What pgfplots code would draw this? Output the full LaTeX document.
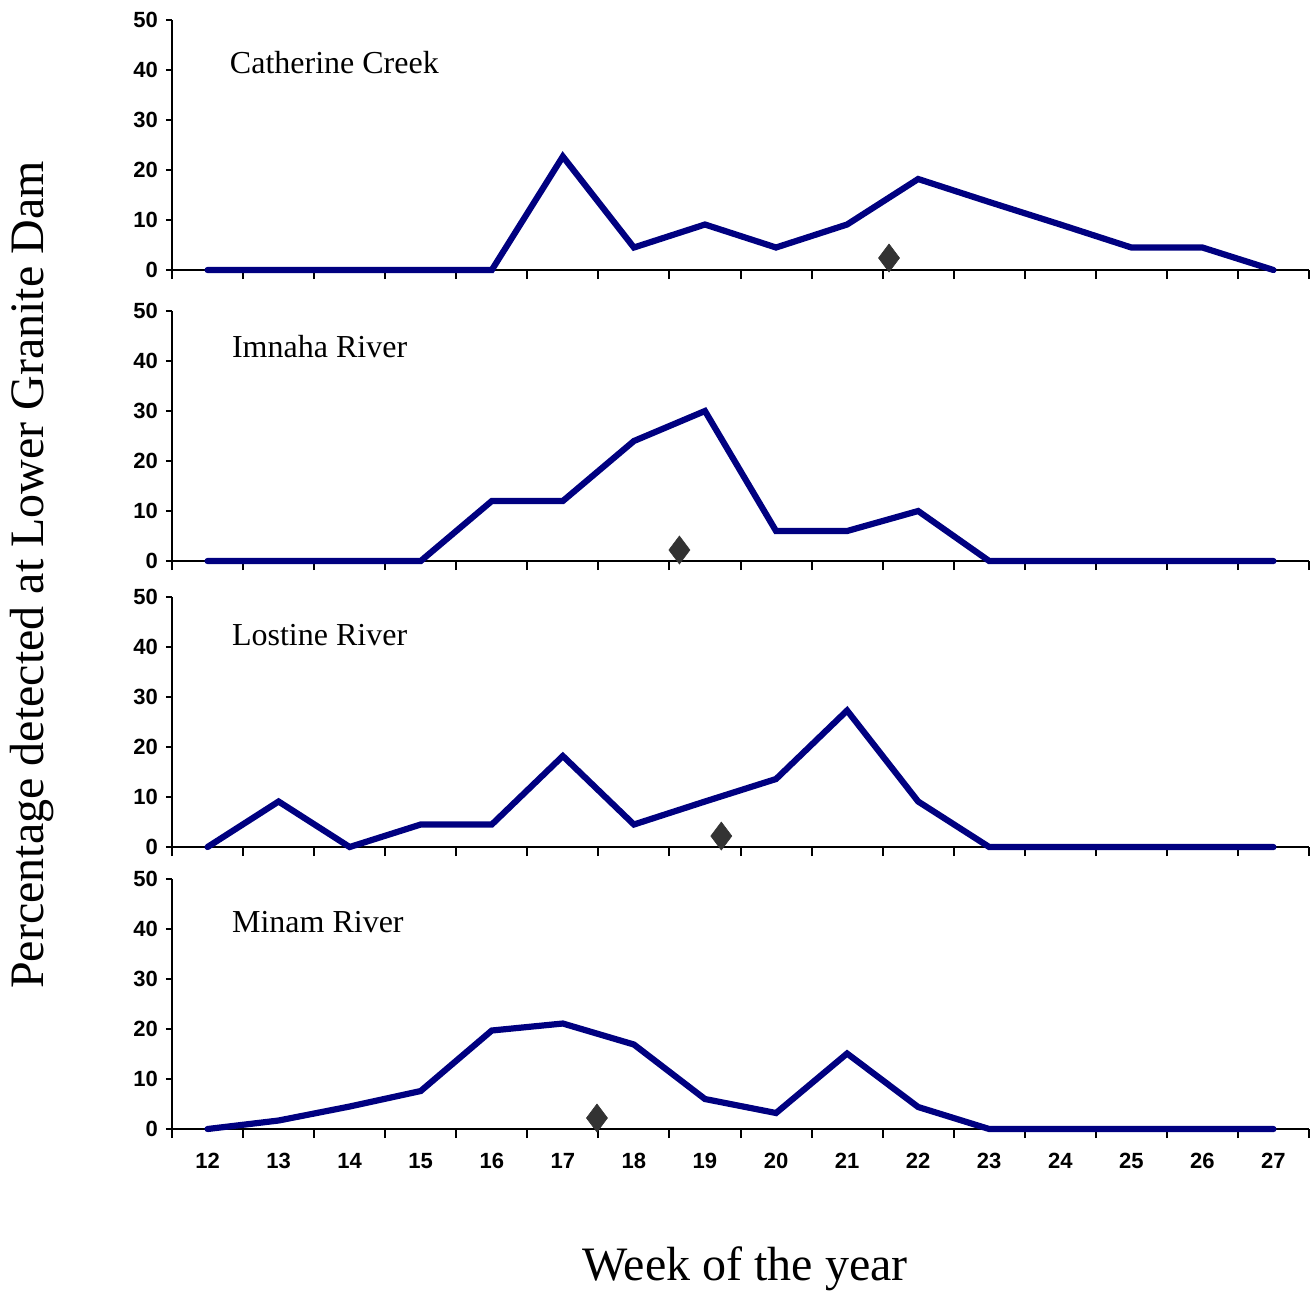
\documentclass[border=0pt]{standalone}
\usepackage{pgfplots}
\pgfplotsset{compat=1.18}
\usepackage{fontspec}
\setmainfont{Liberation Serif}
\setsansfont{Liberation Sans}

\definecolor{runline}{RGB}{0,0,128}
\definecolor{median}{RGB}{51,51,51}

\tikzset{rivername/.style={anchor=west, inner sep=0pt, font=\fontsize{16}{19}\selectfont}}

\pgfplotsset{
  panel/.style={
    scale only axis,
    width=568.5pt, height=125pt,
    xmin=11.5, xmax=27.5,
    ymin=0, ymax=50,
    ytick={0,10,...,50},
    xtick={12,...,27},
    minor xtick={11.5,12.5,...,27.5},
    axis x line*=bottom,
    axis y line*=left,
    axis line style={line width=1pt},
    every tick/.style={black, line width=1pt},
    tick align=outside,
    major tick length=3pt,
    minor tick length=4.5pt,
    major x tick style={draw=none},
    ticklabel style={font=\sffamily\bfseries\fontsize{11}{13}\selectfont},
    /pgf/number format/assume math mode=true,
    yticklabel style={xshift=-0.5pt},
    xticklabels={},
    clip=false,
  },
  weekly/.style={runline, line width=3.1pt, line cap=round, mark=none},
  medpt/.style={only marks, mark=diamond*, mark size=7pt,
    mark options={fill=median, draw=median, line width=0.3pt}},
}

\begin{document}
\begin{tikzpicture}
\path[use as bounding box] (0pt,0pt) rectangle (656pt,-646pt);

% Catherine Creek
\begin{axis}[panel, at={(86pt,-135pt)}, anchor=south west]
\addplot[weekly] coordinates {(12,0) (13,0) (14,0) (15,0) (16,0) (17,22.7) (18,4.5) (19,9.1) (20,4.5) (21,9.1) (22,18.2) (23,13.6) (24,9.1) (25,4.5) (26,4.5) (27,0)};
\addplot[medpt] coordinates {(21.59,2.4)};
\node[rivername] at (axis cs:12.31,41.4) {Catherine Creek};
\end{axis}

% Imnaha River
\begin{axis}[panel, at={(86pt,-280.5pt)}, anchor=south west]
\addplot[weekly] coordinates {(12,0) (13,0) (14,0) (15,0) (16,12) (17,12) (18,24) (19,30) (20,6) (21,6) (22,10) (23,0) (24,0) (25,0) (26,0) (27,0)};
\addplot[medpt] coordinates {(18.64,2.2)};
\node[rivername] at (axis cs:12.34,42.8) {Imnaha River};
\end{axis}

% Lostine River
\begin{axis}[panel, at={(86pt,-423.5pt)}, anchor=south west]
\addplot[weekly] coordinates {(12,0) (13,9.1) (14,0) (15,4.5) (16,4.5) (17,18.2) (18,4.5) (19,9.1) (20,13.6) (21,27.3) (22,9.1) (23,0) (24,0) (25,0) (26,0) (27,0)};
\addplot[medpt] coordinates {(19.23,2.2)};
\node[rivername] at (axis cs:12.34,42.4) {Lostine River};
\end{axis}

% Minam River
\begin{axis}[panel, at={(86pt,-564.5pt)}, anchor=south west,
  xticklabels={12,13,14,15,16,17,18,19,20,21,22,23,24,25,26,27},
  xticklabel style={yshift=-5.5pt}]
\addplot[weekly] coordinates {(12,0) (13,1.7) (14,4.5) (15,7.6) (16,19.7) (17,21.1) (18,16.9) (19,6.0) (20,3.2) (21,15.1) (22,4.4) (23,0) (24,0) (25,0) (26,0) (27,0)};
\addplot[medpt] coordinates {(17.48,2.2)};
\node[rivername] at (axis cs:12.34,41.4) {Minam River};
\end{axis}

\node[rotate=90, font=\fontsize{24}{28}\selectfont] at (16pt,-287.5pt) {Percentage detected at Lower Granite Dam};
\node[font=\fontsize{24}{28}\selectfont] at (372.5pt,-634.5pt) {Week of the year};
\end{tikzpicture}
\end{document}
